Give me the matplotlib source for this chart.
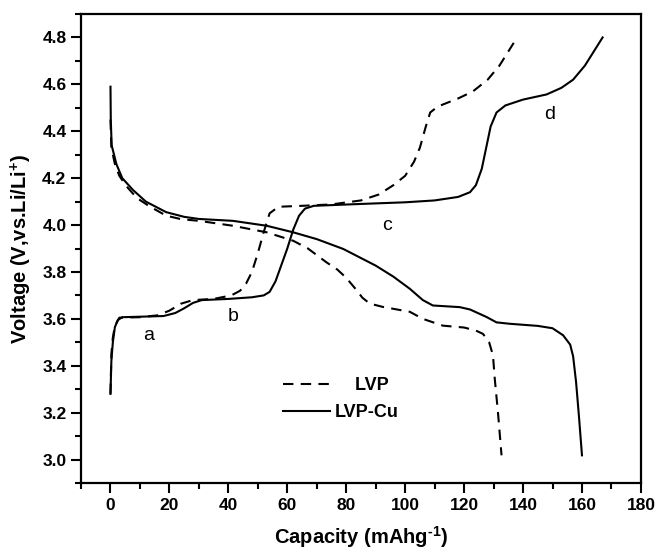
import matplotlib
matplotlib.use("Agg")
import matplotlib.pyplot as plt
from matplotlib.ticker import MultipleLocator

plt.rcParams['font.family'] = ['Liberation Sans', 'DejaVu Sans']
plt.rcParams['mathtext.fontset'] = 'custom'
plt.rcParams['mathtext.rm'] = 'Liberation Sans:bold'
plt.rcParams['mathtext.bf'] = 'Liberation Sans:bold'

# LVP charge (dashed)
lvp_chg_x = [0, 0.3, 0.8, 1.5, 3, 10, 16, 20, 24, 28, 35, 41, 44, 46, 48, 50, 52, 54, 57, 65, 75, 85, 91, 96, 100, 103, 105, 107, 108.5, 111, 118, 123, 128, 132, 135, 138]
lvp_chg_y = [3.28, 3.45, 3.52, 3.57, 3.605, 3.607, 3.615, 3.635, 3.665, 3.68, 3.685, 3.70, 3.72, 3.75, 3.80, 3.88, 3.97, 4.05, 4.078, 4.082, 4.088, 4.105, 4.13, 4.17, 4.21, 4.27, 4.33, 4.42, 4.48, 4.505, 4.54, 4.57, 4.62, 4.68, 4.74, 4.80]

# LVP discharge (dashed)
lvp_dis_x = [0, 0.3, 1.5, 3, 5.3, 9, 13.2, 18.9, 24, 30, 41.5, 53, 62, 67, 73.3, 77, 80, 83, 85.5, 88, 92.4, 101.6, 106, 112.8, 120, 124, 126.4, 128.5, 129.8, 130.4, 131.5, 132.7]
lvp_dis_y = [4.45, 4.33, 4.26, 4.21, 4.167, 4.115, 4.08, 4.04, 4.025, 4.018, 3.997, 3.969, 3.933, 3.90, 3.841, 3.81, 3.775, 3.73, 3.69, 3.665, 3.651, 3.63, 3.60, 3.571, 3.563, 3.55, 3.536, 3.50, 3.444, 3.345, 3.20, 3.018]

# LVP-Cu charge (solid)
cu_chg_x = [0, 0.3, 0.8, 1.5, 2.5, 4, 18, 22, 25, 28, 31, 40, 48, 52, 54, 56, 58, 60, 62, 64, 66, 69, 85, 100, 110, 118, 122, 124, 126, 127.5, 129, 131, 134, 140, 148, 153, 157, 161, 164, 167]
cu_chg_y = [3.28, 3.42, 3.50, 3.565, 3.595, 3.607, 3.612, 3.625, 3.645, 3.668, 3.68, 3.685, 3.692, 3.70, 3.715, 3.76, 3.83, 3.90, 3.98, 4.04, 4.07, 4.082, 4.09, 4.097, 4.105, 4.12, 4.14, 4.17, 4.24, 4.33, 4.42, 4.48, 4.51, 4.535, 4.557, 4.585, 4.62, 4.68, 4.74, 4.80]

# LVP-Cu discharge (solid)
cu_dis_x = [0, 0.1, 0.4, 0.8, 2, 4, 7.6, 12, 18.9, 25, 30, 41.5, 53, 62, 70, 79, 90, 96, 101.6, 106, 109.4, 118.5, 122, 127.6, 131, 135.5, 145, 150, 153.6, 156, 157, 158, 159, 160]
cu_dis_y = [4.59, 4.45, 4.34, 4.32, 4.26, 4.20, 4.15, 4.10, 4.055, 4.035, 4.026, 4.018, 3.997, 3.969, 3.94, 3.898, 3.827, 3.78, 3.728, 3.68, 3.657, 3.65, 3.64, 3.608, 3.585, 3.579, 3.57, 3.56, 3.53, 3.49, 3.44, 3.33, 3.18, 3.018]

annot_labels = ['a', 'b', 'c', 'd']
annot_x = [13, 41.5, 94, 149]
annot_y = [3.53, 3.61, 4.0, 4.47]

fig = plt.figure(figsize=(6.56, 5.51), dpi=100)
ax = fig.add_axes([0.1235, 0.1234, 0.8535, 0.8512])

dash = (0, (5, 3.5))
ax.plot(lvp_chg_x, lvp_chg_y, color='black', lw=1.5, linestyle=dash, label='    LVP')
ax.plot(lvp_dis_x, lvp_dis_y, color='black', lw=1.5, linestyle=dash)
ax.plot(cu_chg_x, cu_chg_y, color='black', lw=1.5, label='LVP-Cu')
ax.plot(cu_dis_x, cu_dis_y, color='black', lw=1.5)

for t, x, y in zip(annot_labels, annot_x, annot_y):
    ax.text(x, y, t, fontsize=14, ha='center', va='center')

ax.set_xlim(-10, 180)
ax.set_ylim(2.9, 4.9)
ax.xaxis.set_minor_locator(MultipleLocator(10))
ax.yaxis.set_minor_locator(MultipleLocator(0.1))
ax.tick_params(which='both', direction='out', top=False, right=False, width=1.5)
ax.tick_params(which='major', length=7, labelsize=12.5)
ax.tick_params(which='minor', length=4)
ax.set_xticks([0, 20, 40, 60, 80, 100, 120, 140, 160, 180])
ax.set_yticks([3.0, 3.2, 3.4, 3.6, 3.8, 4.0, 4.2, 4.4, 4.6, 4.8])
for lab in ax.get_xticklabels() + ax.get_yticklabels():
    lab.set_fontweight('bold')
for s in ax.spines.values():
    s.set_linewidth(1.6)

ax.set_xlabel('Capacity (mAhg$^{\\text{-1}}$)', fontsize=14.5, fontweight='bold', labelpad=8)
ax.set_ylabel('Voltage (V,vs.Li/Li$^{\\text{+}}$)', fontsize=14.5, fontweight='bold', labelpad=6)

leg = ax.legend(loc='upper left', bbox_to_anchor=(0.331, 0.26), frameon=False,
                handlelength=2.6, handletextpad=0.3, labelspacing=0.55,
                prop={'weight': 'bold', 'size': 13})

fig.savefig('out.png', dpi=100)
